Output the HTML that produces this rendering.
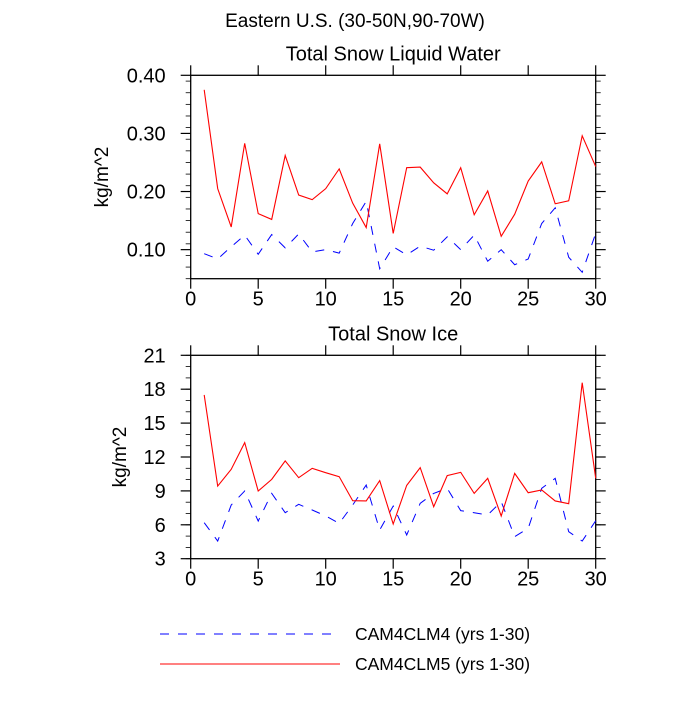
<!DOCTYPE html>
<html><head><meta charset="utf-8"><style>
html,body{margin:0;padding:0;background:#fff;}
svg text{font-family:"Liberation Sans",Arial,sans-serif;fill:#000;}
</style></head><body>
<svg id="c" width="700" height="700" xmlns="http://www.w3.org/2000/svg">
<text x="355" y="27" font-size="19" text-anchor="middle">Eastern U.S. (30-50N,90-70W)</text>
<g id="legend">
<line x1="160" y1="634" x2="340" y2="634" stroke="#0000ff" stroke-width="1" stroke-dasharray="9,9"/>
<text x="355" y="640" font-size="17.5">CAM4CLM4 (yrs 1-30)</text>
<line x1="160" y1="664" x2="340" y2="664" stroke="#ff0000" stroke-width="1"/>
<text x="355" y="670" font-size="17.5">CAM4CLM5 (yrs 1-30)</text>
</g>
</svg>
<script>
const years = Array.from({length:30},(_,i)=>i+1);
const liqClm5 = [0.375,0.205,0.139,0.283,0.162,0.152,0.262,0.194,0.186,0.205,0.239,0.180,0.138,0.282,0.128,0.241,0.242,0.215,0.196,0.241,0.160,0.201,0.123,0.161,0.218,0.251,0.179,0.184,0.296,0.243];
const liqClm4 = [0.093,0.084,0.105,0.125,0.092,0.126,0.103,0.127,0.096,0.100,0.094,0.145,0.183,0.067,0.105,0.091,0.106,0.099,0.122,0.100,0.125,0.080,0.100,0.074,0.084,0.145,0.172,0.087,0.061,0.128];
const iceClm5 = [17.49,9.43,10.91,13.27,8.99,10.02,11.65,10.17,11.0,10.61,10.26,8.13,8.11,9.91,6.07,9.49,11.06,7.60,10.35,10.64,8.78,10.11,6.78,10.55,8.84,9.08,8.11,7.87,18.58,10.11];
const iceClm4 = [6.19,4.56,7.75,8.99,6.33,8.78,7.07,7.81,7.31,6.78,6.13,7.75,9.52,5.54,7.66,5.10,7.9,8.78,9.23,7.25,7.07,6.87,8.05,4.95,5.69,9.23,10.11,5.39,4.56,6.36];
const xTicks = [0,5,10,15,20,25,30];
const liqTicks = [0.10,0.20,0.30,0.40];
const liqTickLabels = ["0.10","0.20","0.30","0.40"];
const iceTicks = [3,6,9,12,15,18,21];
const iceTickLabels = ["3","6","9","12","15","18","21"];

const NS="http://www.w3.org/2000/svg";
const svg=document.getElementById('c');
function mk(t,a,p){const e=document.createElementNS(NS,t);for(const k in a)e.setAttribute(k,a[k]);(p||svg).appendChild(e);return e;}

function panel(o){
  const L=190.7,R=595.7,T=o.top,B=o.top+203.4;
  const sx=v=>L+(v-0)/(30-0)*(R-L);
  const sy=v=>B-(v-o.ymin)/(o.ymax-o.ymin)*(B-T);
  const g=mk('g',{});
  
  
  const box=mk('rect',{x:L,y:T,width:R-L,height:B-T,fill:'none',stroke:'#000','stroke-width':1.3},g);
  
  
  for(let v=o.ymin;v<=o.ymax+1e-9;v+=o.minor){
    const y=sy(v);
    const a=mk('line',{x1:L-5,x2:L,y1:y,y2:y,stroke:'#000','stroke-width':0.8},g);
    
    
    const b=mk('line',{x1:R,x2:R+5,y1:y,y2:y,stroke:'#000','stroke-width':0.8},g);
    
    
  }
  o.ticks.forEach((v,i)=>{
    const y=sy(v);
    const a=mk('line',{x1:L-10,x2:L,y1:y,y2:y,stroke:'#000','stroke-width':1.2},g);
    
    
    const b=mk('line',{x1:R,x2:R+10,y1:y,y2:y,stroke:'#000','stroke-width':1.2},g);
    
    
    const t=mk('text',{x:L-25,y:y+7,'font-size':20,'text-anchor':'end'},g);
    t.textContent=o.labels[i];
    
    
  });
  xTicks.forEach(v=>{
    const x=sx(v);
    const a=mk('line',{x1:x,x2:x,y1:B,y2:B+10,stroke:'#000','stroke-width':1.2},g);
    
    
    const b=mk('line',{x1:x,x2:x,y1:T-10,y2:T,stroke:'#000','stroke-width':1.2},g);
    
    
    const t=mk('text',{x:x,y:B+27,'font-size':20,'text-anchor':'middle'},g);
    t.textContent=String(v);
    
    
  });
  const ti=mk('text',{x:(L+R)/2,y:T-15,'font-size':20,'text-anchor':'middle'},g);
  ti.textContent=o.title;
  
  
  const yl=mk('text',{x:0,y:0,'font-size':19,'text-anchor':'middle',transform:`translate(${o.ylx},${(T+B)/2}) rotate(-90)`},g);
  yl.textContent='kg/m^2';
  
  
  const p4=mk('polyline',{points:years.map((x,i)=>sx(x)+','+sy(o.s4[i])).join(' '),fill:'none',stroke:'#0000ff','stroke-width':1,'stroke-dasharray':'9,9'},g);
  
  
  const p5=mk('polyline',{points:years.map((x,i)=>sx(x)+','+sy(o.s5[i])).join(' '),fill:'none',stroke:'#ff0000','stroke-width':1.1},g);
  
  
}
panel({name:'liquid-water-panel',top:75.3,ymin:0.05,ymax:0.40,minor:0.02,ticks:liqTicks,labels:liqTickLabels,title:'Total Snow Liquid Water',s4:liqClm4,s5:liqClm5,ylx:108});
panel({name:'snow-ice-panel',top:355.3,ymin:3,ymax:21,minor:1,ticks:iceTicks,labels:iceTickLabels,title:'Total Snow Ice',s4:iceClm4,s5:iceClm5,ylx:126});
</script>
</body></html>
